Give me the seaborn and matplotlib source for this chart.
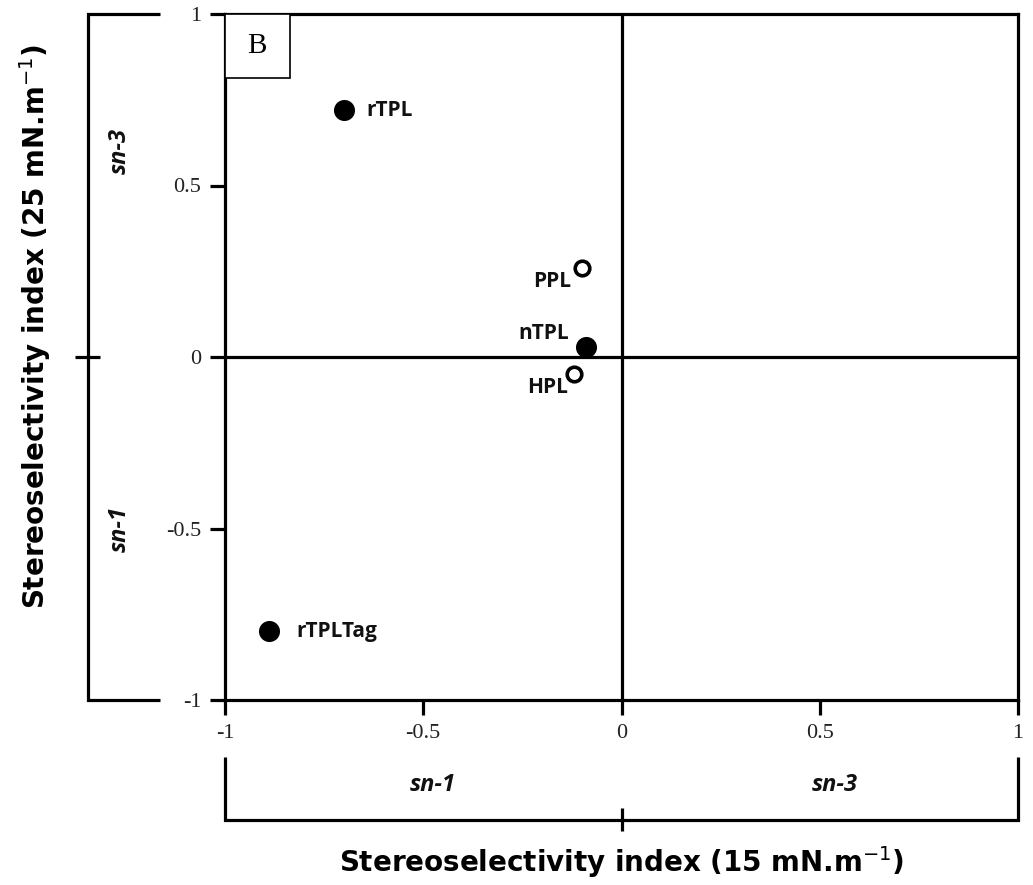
import matplotlib
matplotlib.use("Agg")
import matplotlib.pyplot as plt
import seaborn as sns
import pandas as pd
from matplotlib.patches import Rectangle
from matplotlib.lines import Line2D

# ---- data ----
names = ["rTPL", "rTPLTag", "nTPL", "PPL", "HPL"]
x_vals = [-0.70, -0.89, -0.09, -0.10, -0.12]
y_vals = [0.72, -0.80, 0.03, 0.26, -0.05]
kinds = ["filled", "filled", "filled", "open", "open"]
ticks = [-1, -0.5, 0, 0.5, 1]
tick_labels = ["-1", "-0.5", "0", "0.5", "1"]

df = pd.DataFrame({"name": names, "x": x_vals, "y": y_vals, "kind": kinds})

sns.set_theme(style="white")
plt.rcParams["font.family"] = ["Open Sans", "DejaVu Sans"]
plt.rcParams["text.color"] = "black"

fig = plt.figure(figsize=(10.33, 8.85), dpi=100)
ax = fig.add_axes([225/1033, 1-700/885, 793/1033, 686/885])

lw = 2.3
filled = df[df.kind == "filled"]
opened = df[df.kind == "open"]
sns.scatterplot(data=filled, x="x", y="y", ax=ax, s=230, color="black",
                edgecolor="black", linewidth=0, zorder=5, legend=False)
sns.scatterplot(data=opened, x="x", y="y", ax=ax, s=110, color="white",
                edgecolor="black", linewidth=2.6, zorder=5, legend=False)

ax.axhline(0, color="black", lw=lw, zorder=2)
ax.axvline(0, color="black", lw=lw, zorder=2)

ax.set_xlim(-1, 1)
ax.set_ylim(-1, 1)
ax.set_xticks(ticks)
ax.set_yticks(ticks)
ax.set_xticklabels(tick_labels)
ax.set_yticklabels(tick_labels)
for sp in ax.spines.values():
    sp.set_linewidth(lw)
    sp.set_color("black")
ax.tick_params(axis="both", which="major", bottom=True, left=True,
               direction="out", length=11, width=lw, color="black",
               labelsize=16, pad=6)
for lab in ax.get_xticklabels() + ax.get_yticklabels():
    lab.set_fontfamily(["Liberation Serif", "DejaVu Serif"])
    lab.set_color("#222222")
ax.set_xlabel("")
ax.set_ylabel("")

# point labels
offsets = {
    "rTPL": (16, 0, "left", "center"),
    "rTPLTag": (20, 0, "left", "center"),
    "nTPL": (-12, 2, "right", "bottom"),
    "PPL": (-8, -2, "right", "top"),
    "HPL": (-4, -2, "right", "top"),
}
for n, xv, yv in zip(names, x_vals, y_vals):
    dx, dy, ha, va = offsets[n]
    ax.annotate(n, (xv, yv), xytext=(dx, dy), textcoords="offset points",
                ha=ha, va=va, fontsize=15, fontweight="bold", color="#111111")

# panel label box
ax.add_patch(Rectangle((0, 1-64/686), 65/793, 64/686, transform=ax.transAxes,
                       facecolor="white", edgecolor="black", lw=1.2, zorder=6))
ax.text(32/793, 1-32/686, "B", transform=ax.transAxes, ha="center", va="center",
        fontsize=21, family=["Liberation Serif", "DejaVu Serif"], zorder=7)

# outer brackets (axes coordinates)
T = ax.transAxes
def seg(xs, ys):
    ax.add_line(Line2D(xs, ys, transform=T, color="black", lw=lw, clip_on=False,
                       solid_capstyle="butt", solid_joinstyle="miter"))

lx = -137/793
seg([-65/793, lx, lx, -65/793], [1, 1, 0, 0])
seg([-150/793, -125/793], [0.5, 0.5])
by = -120/686
seg([0, 0, 1, 1], [-57/686, by, by, -57/686])
seg([0.5, 0.5], [-108/686, -131/686])

# region labels
for txt, xx, yy, rot in [("sn-3", -105/793, 0.80, 90), ("sn-1", -105/793, 0.25, 90),
                         ("sn-1", 208/793, -85/686, 0), ("sn-3", 610/793, -85/686, 0)]:
    ax.text(xx, yy, txt, transform=T, rotation=rot, ha="center", va="center",
            fontsize=17, style="italic", fontweight="bold", color="#111111")

# axis titles
ax.text(0.5, -162/686, "Stereoselectivity index (15 mN.m$^{-1}$)", transform=T,
        ha="center", va="center", fontsize=20, fontweight="bold",
        family=["DejaVu Sans"], color="black")
ax.text(-190/793, 0.545, "Stereoselectivity index (25 mN.m$^{-1}$)", transform=T,
        rotation=90, ha="center", va="center", fontsize=20, fontweight="bold",
        family=["DejaVu Sans"], color="black")

fig.savefig("out.png", dpi=100, facecolor="white")
